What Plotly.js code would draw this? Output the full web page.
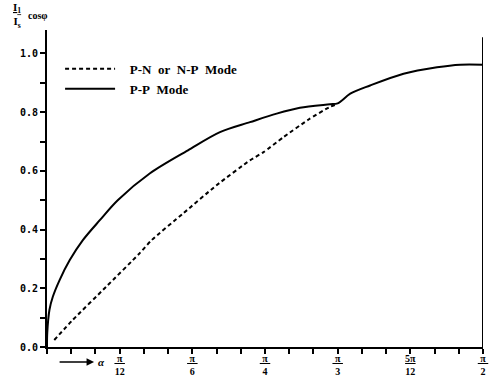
<!DOCTYPE html>
<html><head><meta charset="utf-8">
<script src="https://cdn.plot.ly/plotly-3.0.1.min.js"></script>
<style>html,body{margin:0;padding:0;background:#fff}#chart{width:497px;height:380px}</style>
</head><body><div id="chart"></div>
<script>
// alpha in degrees
const ppAlpha = [0, 0.05, 0.5, 1.2, 2.6, 4.7, 7.4, 10.9, 14.6, 21.2, 29.1, 35.7, 41.9, 47.4, 52.2, 58.4, 60, 62.6, 66.7, 73.6, 80.5, 85.3, 90];
const ppValue = [0, 0.048, 0.126, 0.171, 0.228, 0.296, 0.364, 0.432, 0.5, 0.591, 0.67, 0.732, 0.766, 0.795, 0.815, 0.827, 0.83, 0.863, 0.891, 0.931, 0.953, 0.962, 0.962];
const pnAlpha = [1.5, 5.3, 12.2, 19.1, 21.6, 28.1, 35.0, 41.9, 44.7, 48.8, 54, 58.4, 60];
const pnValue = [0.024, 0.092, 0.205, 0.319, 0.364, 0.455, 0.551, 0.636, 0.664, 0.715, 0.775, 0.818, 0.828];
const xTickVals = [15, 30, 45, 60, 75, 90];
const xTickText = ["<u>\u00a0π\u00a0</u><br>12", "<u>\u00a0π\u00a0</u><br>6", "<u>\u00a0π\u00a0</u><br>4", "<u>\u00a0π\u00a0</u><br>3", "<u>5π</u><br>12", "<u>\u00a0π\u00a0</u><br>2"];
const yTickVals = [0, 0.2, 0.4, 0.6, 0.8, 1.0];
const yTickText = ["0.0", "0.2", "0.4", "0.6", "0.8", "1.0"];
const legendNames = ["\u00a0\u00a0\u00a0P-N\u00a0 or\u00a0 N-P\u00a0 Mode", "\u00a0\u00a0\u00a0P-P\u00a0 Mode"];

const font = {family: "Liberation Serif, serif", color: "#000"};
const traces = [
  {x: pnAlpha, y: pnValue, mode: "lines", name: legendNames[0],
   line: {color: "#000", width: 2, dash: "4px,3px", shape: "spline", smoothing: 0.6}},
  {x: ppAlpha, y: ppValue, mode: "lines", name: legendNames[1],
   line: {color: "#000", width: 2, shape: "spline", smoothing: 0.9}}
];
const layout = {
  width: 497, height: 380,
  margin: {l: 47, r: 14, t: 30, b: 33},
  paper_bgcolor: "#fff", plot_bgcolor: "#fff",
  showlegend: true,
  legend: {x: 0.03, y: 0.925, xanchor: "left", yanchor: "top", bgcolor: "rgba(0,0,0,0)",
    font: Object.assign({size: 13, weight: "bold"}, font), tracegroupgap: 0, itemwidth: 50},
  xaxis: {range: [0, 90], showgrid: false, zeroline: false, showline: true, linecolor: "#000", linewidth: 2,
    ticks: "outside", ticklen: 5, tickwidth: 2, tickcolor: "#000", ticklabelstandoff: -4,
    tickvals: xTickVals, ticktext: xTickText, tickfont: Object.assign({size: 10, weight: "bold"}, font),
    minor: {dtick: 5, tick0: 0, ticks: "outside", ticklen: 5, tickwidth: 2, tickcolor: "#000"}},
  yaxis: {range: [0, 1.08], showgrid: false, zeroline: false, showline: true, linecolor: "#000", linewidth: 2,
    ticks: "outside", ticklen: 5, tickwidth: 2, tickcolor: "#000",
    tickvals: yTickVals, ticktext: yTickText,
    tickfont: {family: "DejaVu Sans Mono, monospace", size: 10, color: "#000", weight: "bold"},
    minor: {dtick: 0.1, tick0: 0, ticks: "outside", ticklen: 5, tickwidth: 2, tickcolor: "#000"}},
  shapes: [
    {type: "line", xref: "x", yref: "y", x0: 90, x1: 90, y0: 0, y1: 1.055, line: {color: "#000", width: 2}}
  ],
  annotations: [
    {xref: "paper", yref: "paper", x: -0.082, y: 1.047, xanchor: "left", yanchor: "middle", showarrow: false,
     text: "<u>I<sub>1</sub></u><br>I<sub>s</sub>", font: Object.assign({size: 11, weight: "bold"}, font)},
    {xref: "paper", yref: "paper", x: -0.048, y: 1.045, xanchor: "left", yanchor: "middle", showarrow: false,
     text: "cosφ", font: Object.assign({size: 10, weight: "bold"}, font)},
    {xref: "paper", yref: "paper", x: 0.108, y: -0.047, ax: -36, ay: 0, showarrow: true, arrowhead: 2, arrowsize: 1,
     arrowwidth: 1.5, arrowcolor: "#000", text: " ", font: {size: 1}},
    {xref: "paper", yref: "paper", x: 0.124, y: -0.047, xanchor: "center", yanchor: "middle", showarrow: false, text: "<i>α</i>",
     font: Object.assign({size: 11, weight: "bold"}, font)}
  ]
};
Plotly.newPlot("chart", traces, layout, {displayModeBar: false, staticPlot: true});
</script></body></html>
